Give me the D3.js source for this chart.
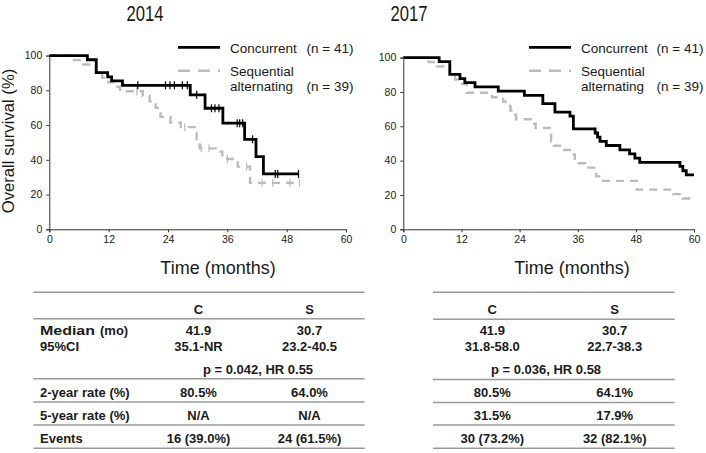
<!DOCTYPE html>
<html>
<head>
<meta charset="utf-8">
<script src="https://cdn.jsdelivr.net/npm/d3@7"></script>
<style>
  html, body { margin: 0; padding: 0; background: #fff; }
  svg { display: block; font-family: "Liberation Sans", Arial, sans-serif; }
</style>
</head>
<body>
<svg id="chart" width="706" height="453"></svg>
<script>
// ---------------- DATA ----------------
const panelTitles = ["2014", "2017"];
const xTickValues = [0, 12, 24, 36, 48, 60];
const yTickValues = [0, 20, 40, 60, 80, 100];
const legendNames = ["Concurrent", "Sequential", "alternating"];
const legendCounts = ["(n = 41)", "(n = 39)"];

// 2014 – Concurrent: step times (months) and survival (%) after each step
const c2014Times = [0, 7.7, 9.5, 11.8, 12.6, 14.8, 28.5, 31.5, 35.1, 39.5, 41.8, 43.3];
const c2014Surv  = [100, 97.6, 90.2, 87.8, 85.4, 82.9, 77.4, 69.7, 61.1, 51.8, 41.8, 31.9];
const c2014End = 50.4;
const c2014Censor = [17.9, 23.5, 24.4, 25.3, 26.9, 27.9, 29.8, 32.8, 33.5, 34.3, 38.0, 38.5, 39.1, 41.1, 45.7, 46.2, 50.4];

// 2014 – Sequential alternating
const s2014Times = [0, 4.5, 6.9, 9.4, 10.7, 11.9, 13.0, 14.3, 18.9, 20.3, 21.5, 22.5, 24.5, 26.6, 29.8, 30.4, 33.8, 35.0, 38.1, 40.6];
const s2014Surv  = [100, 97.4, 94.9, 89.7, 87.2, 84.6, 82.1, 79.5, 76.8, 73.7, 69.9, 64.7, 61.4, 58.8, 50.5, 46.6, 44.7, 40.5, 36.1, 26.7];
const s2014End = 50.7;
const s2014Censor = [17.7, 27.4, 30.7, 32.3, 36.0, 39.9, 43.0, 45.2, 48.7, 50.6];

// 2017 – Concurrent
const c2017Times = [0, 7.4, 9.6, 11.7, 12.7, 14.8, 19.6, 25.0, 28.8, 31.3, 34.4, 35.1, 39.6, 40.1, 40.6, 41.9, 44.7, 46.7, 47.8, 48.8, 57.1, 57.7, 58.4];
const c2017Surv  = [100, 97.6, 90.2, 87.8, 85.4, 82.9, 80.5, 78.0, 73.2, 68.3, 65.9, 58.5, 56.1, 53.7, 51.2, 48.8, 46.3, 43.9, 41.5, 39.0, 36.6, 34.1, 31.7];
const c2017End = 60;
const c2017Censor = [];

// 2017 – Sequential alternating
const s2017Times = [0, 5.2, 6.9, 9.6, 10.7, 11.7, 13.1, 18.3, 20.6, 21.1, 22.1, 22.7, 23.3, 26.3, 27.3, 30.5, 31.1, 32.6, 34.4, 35.4, 35.8, 37.5, 39.8, 40.9, 48.2, 55.7, 57.6];
const s2017Surv  = [100, 97.4, 94.9, 89.7, 87.2, 84.6, 79.5, 76.9, 74.4, 71.8, 69.2, 66.7, 64.1, 61.5, 59.0, 51.3, 48.7, 46.2, 43.6, 41.0, 38.5, 35.9, 30.8, 28.2, 23.1, 20.5, 17.9];
const s2017End = 59.8;
const s2017Censor = [];

// Tables
const tableHeader = ["C", "S"];
const tableRowLabels = ["Median", "95%CI", "2-year rate (%)", "5-year rate (%)", "Events"];
const medianUnit = "(mo)";
const table2014C = ["41.9", "35.1-NR", "80.5%", "N/A", "16 (39.0%)"];
const table2014S = ["30.7", "23.2-40.5", "64.0%", "N/A", "24 (61.5%)"];
const table2014P = "p = 0.042, HR 0.55";
const table2017C = ["41.9", "31.8-58.0", "80.5%", "31.5%", "30 (73.2%)"];
const table2017S = ["30.7", "22.7-38.3", "64.1%", "17.9%", "32 (82.1%)"];
const table2017P = "p = 0.036, HR 0.58";

// ---------------- LAYOUT ----------------
const svg = d3.select("#chart");
const BLACK = "#000";
const GRAY = "#bcbcbc";
const TXT = "#1a1a1a";

const panels = [
  { title: panelTitles[0], titleX: 145, x0: 49.3, x1: 346, yTop: 55.6, yBot: 229.3, legX: 178, nX: 306.5,
    conc: { t: c2014Times, s: c2014Surv, end: c2014End, cens: c2014Censor },
    seq:  { t: s2014Times, s: s2014Surv, end: s2014End, cens: s2014Censor },
    xlabX: 218, ylab: true },
  { title: panelTitles[1], titleX: 409, x0: 403.3, x1: 694, yTop: 57.6, yBot: 229.3, legX: 529, nX: 656.5,
    conc: { t: c2017Times, s: c2017Surv, end: c2017End, cens: c2017Censor },
    seq:  { t: s2017Times, s: s2017Surv, end: s2017End, cens: s2017Censor },
    xlabX: 572, ylab: false }
];

function stepValue(times, surv, t) {
  let v = surv[0];
  for (let i = 0; i < times.length; i++) { if (times[i] <= t) v = surv[i]; }
  return v;
}

panels.forEach(p => {
  const x = d3.scaleLinear().domain([0, 60]).range([p.x0, p.x1]);
  const y = d3.scaleLinear().domain([0, 100]).range([p.yBot, p.yTop]);

  // title
  svg.append("text").attr("x", p.titleX).attr("y", 21).attr("text-anchor", "middle")
    .attr("font-size", 22.5).attr("fill", TXT)
    .attr("textLength", 37).attr("lengthAdjust", "spacingAndGlyphs")
    .text(p.title);

  // axes
  const xAxis = d3.axisBottom(x).tickValues(xTickValues).tickSizeOuter(0).tickSize(3).tickPadding(3);
  const yAxis = d3.axisLeft(y).tickValues(yTickValues).tickSizeOuter(0).tickSize(3).tickPadding(4);
  const gx = svg.append("g").attr("transform", `translate(0,${p.yBot})`).call(xAxis);
  const gy = svg.append("g").attr("transform", `translate(${p.x0},0)`).call(yAxis);
  [gx, gy].forEach(g => {
    g.select(".domain").attr("stroke", "#333").attr("stroke-width", 1);
    g.selectAll(".tick line").attr("stroke", "#333");
    g.selectAll("text").attr("font-size", 10.5).attr("fill", TXT)
      .attr("font-family", "Liberation Sans, Arial, sans-serif");
  });

  // axis labels
  svg.append("text").attr("x", p.xlabX).attr("y", 274).attr("text-anchor", "middle")
    .attr("font-size", 18).attr("fill", TXT).text("Time (months)");
  if (p.ylab) {
    svg.append("text").attr("transform", "translate(14,141) rotate(-90)")
      .attr("text-anchor", "middle").attr("font-size", 16.7).attr("fill", TXT)
      .text("Overall survival (%)");
  }

  const line = d3.line().x(d => x(d[0])).y(d => y(d[1])).curve(d3.curveStepAfter);

  function drawCurve(c, color, width, dash) {
    const pts = c.t.map((t, i) => [t, c.s[i]]);
    pts.push([c.end, c.s[c.s.length - 1]]);
    svg.append("path").datum(pts).attr("d", line).attr("fill", "none")
      .attr("stroke", color).attr("stroke-width", width)
      .attr("stroke-dasharray", dash);
    svg.selectAll(null).data(c.cens).enter().append("line")
      .attr("x1", d => x(d)).attr("x2", d => x(d))
      .attr("y1", d => y(stepValue(c.t, c.s, d)) - 4)
      .attr("y2", d => y(stepValue(c.t, c.s, d)) + 4)
      .attr("stroke", color).attr("stroke-width", 1.2);
  }
  drawCurve(p.seq, GRAY, 2.4, "8,6");
  drawCurve(p.conc, BLACK, 2.8, null);

  // legend
  svg.append("line").attr("x1", p.legX).attr("x2", p.legX + 42).attr("y1", 47.3).attr("y2", 47.3)
    .attr("stroke", BLACK).attr("stroke-width", 2.8);
  svg.append("line").attr("x1", p.legX).attr("x2", p.legX + 42).attr("y1", 70.7).attr("y2", 70.7)
    .attr("stroke", GRAY).attr("stroke-width", 2.4).attr("stroke-dasharray", "12,8");
  const lt = [[legendNames[0], p.legX + 52, 52.7], [legendNames[1], p.legX + 52, 75.5], [legendNames[2], p.legX + 52, 91]];
  lt.forEach(d => svg.append("text").attr("x", d[1]).attr("y", d[2]).attr("font-size", 13.5).attr("fill", TXT).text(d[0]));
  svg.append("text").attr("x", p.nX).attr("y", 52.7).attr("font-size", 13.5).attr("fill", TXT).text(legendCounts[0]);
  svg.append("text").attr("x", p.nX).attr("y", 91).attr("font-size", 13.5).attr("fill", TXT).text(legendCounts[1]);
});

// ---------------- TABLES ----------------
const tables = [
  { x0: 33.3, x1: 364.7, cx: 198.5, sx: 309.5, px: 258, labels: true, C: table2014C, S: table2014S, P: table2014P,
    lines: [292.3, 318.8, 378.8, 402, 425, 448.3] },
  { x0: 433, x1: 674.7, cx: 492.3, sx: 614.7, px: 546, labels: false, C: table2017C, S: table2017S, P: table2017P,
    lines: [292.3, 319.3, 379.5, 402.5, 425, 448.3] }
];
const rowBase = [335, 351, 397, 420, 443];
tables.forEach(tb => {
  tb.lines.forEach(ly => svg.append("line").attr("x1", tb.x0).attr("x2", tb.x1).attr("y1", ly).attr("y2", ly)
    .attr("stroke", "#9a9a9a").attr("stroke-width", 1.6));
  const bold = sel => sel.attr("font-size", 13).attr("font-weight", "bold").attr("fill", TXT);
  bold(svg.append("text").attr("x", tb.cx).attr("y", 314).attr("text-anchor", "middle").text(tableHeader[0]));
  bold(svg.append("text").attr("x", tb.sx).attr("y", 314).attr("text-anchor", "middle").text(tableHeader[1]));
  tb.C.forEach((v, i) => bold(svg.append("text").attr("x", tb.cx).attr("y", rowBase[i]).attr("text-anchor", "middle").text(v)));
  tb.S.forEach((v, i) => bold(svg.append("text").attr("x", tb.sx).attr("y", rowBase[i]).attr("text-anchor", "middle").text(v)));
  bold(svg.append("text").attr("x", tb.px).attr("y", 374).attr("text-anchor", "middle").text(tb.P));
  if (tb.labels) {
    tableRowLabels.forEach((v, i) => {
      const t = bold(svg.append("text").attr("x", 40).attr("y", rowBase[i]).text(v));
      if (i === 0) t.attr("textLength", 55).attr("lengthAdjust", "spacingAndGlyphs");
    });
    bold(svg.append("text").attr("x", 100).attr("y", rowBase[0]).text(medianUnit));
  }
});
</script>
</body>
</html>
